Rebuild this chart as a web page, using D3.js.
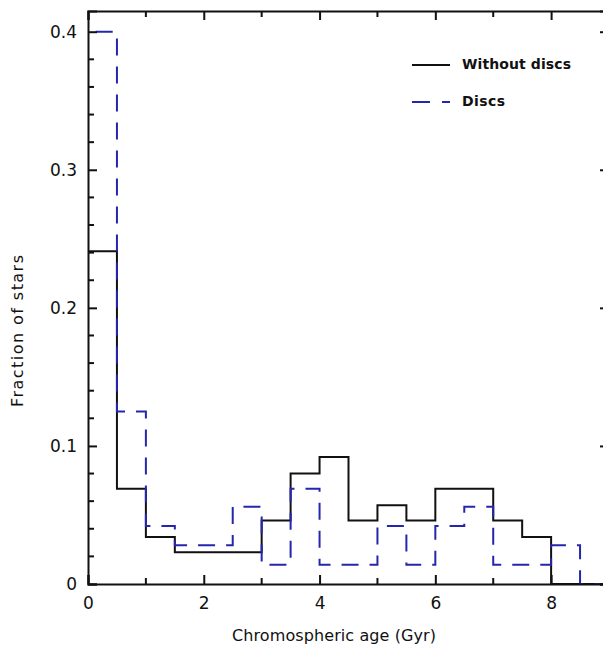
<!DOCTYPE html>
<html>
<head>
<meta charset="utf-8">
<script src="https://cdn.jsdelivr.net/npm/d3@7"></script>
<style>
  html, body { margin: 0; padding: 0; background: #fff; }
  svg { display: block; }
  text { font-family: "DejaVu Sans", Arial, sans-serif; fill: #111; }
</style>
</head>
<body>
<svg id="chart" width="603" height="652"></svg>
<script>
// Histogram bins (Gyr): left edge of each 0.5 Gyr bin
const binStarts = [0, 0.5, 1, 1.5, 2, 2.5, 3, 3.5, 4, 4.5, 5, 5.5, 6, 6.5, 7, 7.5, 8, 8.5];
const binWidth = 0.5;

// Fraction of stars per bin
const withoutDiscs = [0.241, 0.069, 0.034, 0.023, 0.023, 0.023, 0.046, 0.080, 0.092, 0.046,
                      0.057, 0.046, 0.069, 0.069, 0.046, 0.034, 0, 0];
const discs        = [0.400, 0.125, 0.042, 0.028, 0.028, 0.056, 0.014, 0.069, 0.014, 0.014,
                      0.042, 0.014, 0.042, 0.056, 0.014, 0.014, 0.028, 0];

const xMajorTicks = [0, 2, 4, 6, 8];
const xMinorTicks = [1, 3, 5, 7];
const yMajorTicks = [0, 0.1, 0.2, 0.3, 0.4];
const yMinorTicks = [0.02, 0.04, 0.06, 0.08, 0.12, 0.14, 0.16, 0.18, 0.22, 0.24, 0.26, 0.28,
                     0.32, 0.34, 0.36, 0.38];

const seriesNames = ["Without discs", "Discs"];

const svg = d3.select("#chart");
const frame = { left: 88, right: 609, top: 11, bottom: 584 };

const x = d3.scaleLinear().domain([0, 9]).range([frame.left, frame.right]);
const y = d3.scaleLinear().domain([0, 0.415]).range([frame.bottom, frame.top]);

const blue = "#2626ac";

// Step outline for a histogram series
function stepPoints(vals) {
  const pts = [[0, 0]];
  vals.forEach((v, i) => pts.push([binStarts[i], v]));
  pts.push([binStarts[binStarts.length - 1] + binWidth, vals[vals.length - 1]]);
  return pts;
}
const line = d3.line().x(d => x(d[0])).y(d => y(d[1])).curve(d3.curveStepAfter);

const plot = svg.append("g");
plot.append("clipPath").attr("id", "clip")
  .append("rect").attr("x", frame.left).attr("y", frame.top - 2)
  .attr("width", frame.right - frame.left).attr("height", frame.bottom - frame.top + 4);

plot.append("path")
  .attr("clip-path", "url(#clip)")
  .attr("d", line(stepPoints(withoutDiscs)))
  .attr("fill", "none").attr("stroke", "#111").attr("stroke-width", 2);

plot.append("path")
  .attr("clip-path", "url(#clip)")
  .attr("d", line(stepPoints(discs)))
  .attr("fill", "none").attr("stroke", blue).attr("stroke-width", 2)
  .attr("stroke-dasharray", "17,11");

// Axes: ticks point inwards on all four sides
const axisColor = "#111";
const bottomAxis = d3.axisBottom(x).tickValues(xMajorTicks).tickSize(-9).tickPadding(13).tickFormat(d3.format("d"));
const gB = svg.append("g").attr("transform", `translate(0,${frame.bottom})`).call(bottomAxis);
gB.selectAll("text").attr("font-size", 17);
gB.append("g").selectAll("line").data(xMinorTicks).join("line")
  .attr("x1", d => x(d)).attr("x2", d => x(d)).attr("y1", 0).attr("y2", -6);

const topAxis = d3.axisTop(x).tickValues(xMajorTicks).tickSize(-9).tickFormat("");
const gT = svg.append("g").attr("transform", `translate(0,${frame.top})`).call(topAxis);
gT.append("g").selectAll("line").data(xMinorTicks).join("line")
  .attr("x1", d => x(d)).attr("x2", d => x(d)).attr("y1", 0).attr("y2", 6);

const leftAxis = d3.axisLeft(y).tickValues(yMajorTicks).tickSize(-9).tickPadding(11)
  .tickFormat(d => d === 0 ? "0" : d3.format(".1f")(d));
const gL = svg.append("g").attr("transform", `translate(${frame.left},0)`).call(leftAxis);
gL.selectAll("text").attr("font-size", 17);
gL.append("g").selectAll("line").data(yMinorTicks).join("line")
  .attr("y1", d => y(d)).attr("y2", d => y(d)).attr("x1", 0).attr("x2", 6);

const rightAxis = d3.axisRight(y).tickValues(yMajorTicks).tickSize(-9).tickFormat("");
const gR = svg.append("g").attr("transform", `translate(${frame.right},0)`).call(rightAxis);
gR.append("g").selectAll("line").data(yMinorTicks).join("line")
  .attr("y1", d => y(d)).attr("y2", d => y(d)).attr("x1", 0).attr("x2", -6);

[gB, gT, gL, gR].forEach(g => {
  g.select(".domain").attr("stroke", axisColor).attr("stroke-width", 2);
  g.selectAll("line").attr("stroke", axisColor).attr("stroke-width", 2);
  g.selectAll("text").attr("fill", "#222").attr("font-family", "'DejaVu Sans', Arial, sans-serif");
});

// Axis titles
svg.append("text")
  .attr("x", 334).attr("y", 636).attr("text-anchor", "middle").attr("dominant-baseline", "middle")
  .attr("font-size", 16).attr("textLength", 204).attr("lengthAdjust", "spacing")
  .text("Chromospheric age (Gyr)");
svg.append("text")
  .attr("transform", "translate(18,331) rotate(-90)")
  .attr("text-anchor", "middle").attr("dominant-baseline", "middle")
  .attr("font-size", 16).attr("textLength", 152).attr("lengthAdjust", "spacing")
  .text("Fraction of stars");

// Legend
const legend = svg.append("g");
const legendRows = [
  { name: seriesNames[0], color: "#111", dash: null, y: 65, len: 109 },
  { name: seriesNames[1], color: blue, dash: "18,12", y: 102, len: 43 }
];
legendRows.forEach(r => {
  legend.append("line").attr("x1", 412).attr("x2", 450).attr("y1", r.y).attr("y2", r.y)
    .attr("stroke", r.color).attr("stroke-width", 2)
    .attr("stroke-dasharray", r.dash);
  legend.append("text").attr("x", 462).attr("y", r.y).attr("dominant-baseline", "middle")
    .attr("font-size", 14).attr("font-weight", 600)
    .attr("textLength", r.len).attr("lengthAdjust", "spacing")
    .text(r.name);
});
</script>
</body>
</html>
